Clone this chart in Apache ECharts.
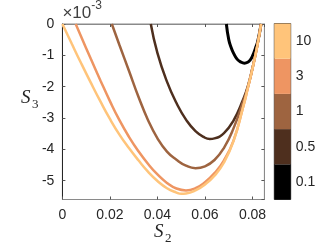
<!DOCTYPE html>
<html><head><meta charset="utf-8">
<script src="https://cdn.jsdelivr.net/npm/echarts@6/dist/echarts.min.js"></script>
<style>html,body{margin:0;padding:0;background:#fff}#c{width:332px;height:250px}</style>
</head><body><div id="c"></div>
<script>
// S3 values are in units of 1e-3 (as on the axis)
const s2_01 = [0.0690, 0.0700, 0.0710, 0.0720, 0.0735, 0.0750, 0.0766, 0.0780, 0.0790, 0.0800, 0.0812, 0.0822, 0.0836];
const s3_01 = [0, -0.50, -0.75, -0.93, -1.12, -1.21, -1.25, -1.22, -1.15, -1.02, -0.78, -0.55, 0];

const s2_05 = [0.0372, 0.0400, 0.0440, 0.0480, 0.0520, 0.0560, 0.0600, 0.0620, 0.0640, 0.0680, 0.0720, 0.0760, 0.0780, 0.0800, 0.0820, 0.0836];
const s3_05 = [0, -0.93, -1.84, -2.52, -3.05, -3.42, -3.63, -3.67, -3.65, -3.48, -3.08, -2.42, -2.0, -1.4, -0.69, 0];

const s2_1 = [0.0208, 0.0240, 0.0280, 0.0320, 0.0360, 0.0400, 0.0440, 0.0480, 0.0520, 0.0560, 0.0600, 0.0640, 0.0680, 0.0720, 0.0760, 0.0780, 0.0800, 0.0820, 0.0836];
const s3_1 = [0, -0.67, -1.49, -2.32, -3.06, -3.65, -4.07, -4.33, -4.52, -4.60, -4.54, -4.34, -3.95, -3.33, -2.49, -2.02, -1.4, -0.69, 0];

const s2_3 = [0.0056, 0.0080, 0.0120, 0.0160, 0.0200, 0.0240, 0.0280, 0.0320, 0.0360, 0.0400, 0.0440, 0.0480, 0.0520, 0.0560, 0.0600, 0.0640, 0.0680, 0.0720, 0.0760, 0.0780, 0.0800, 0.0820, 0.0836];
const s3_3 = [0, -0.42, -1.12, -1.80, -2.46, -3.07, -3.60, -4.06, -4.46, -4.80, -5.07, -5.25, -5.31, -5.24, -5.05, -4.76, -4.35, -3.72, -2.66, -2.06, -1.42, -0.70, 0];

const s2_10 = [0, 0.0040, 0.0080, 0.0120, 0.0160, 0.0200, 0.0240, 0.0280, 0.0320, 0.0360, 0.0400, 0.0440, 0.0480, 0.0500, 0.0520, 0.0560, 0.0600, 0.0640, 0.0680, 0.0720, 0.0760, 0.0780, 0.0800, 0.0820, 0.0836];
const s3_10 = [0, -0.64, -1.27, -1.88, -2.47, -3.03, -3.53, -3.96, -4.35, -4.71, -5.01, -5.24, -5.38, -5.42, -5.41, -5.31, -5.12, -4.84, -4.42, -3.74, -2.66, -2.05, -1.42, -0.70, 0];

const cbLabels = ['0.1', '0.5', '1', '3', '10'];
const cbColors = ['#000000', '#4E2F1E', '#9E6440', '#EE9562', '#FFC47A'];

const xTicks = [0, 0.02, 0.04, 0.06, 0.08];

function pairs(xs, ys) { return xs.map((x, i) => [x, ys[i]]); }

const curves = [
  { x: s2_01, y: s3_01, c: cbColors[0], w: 3 },
  { x: s2_05, y: s3_05, c: cbColors[1], w: 2.5 },
  { x: s2_1, y: s3_1, c: cbColors[2], w: 2.5 },
  { x: s2_3, y: s3_3, c: cbColors[3], w: 2.5 },
  { x: s2_10, y: s3_10, c: cbColors[4], w: 2.5 }
];

const font = '"Liberation Sans", Arial, sans-serif';
const txt = '#262626';

const chart = echarts.init(document.getElementById('c'), null, { renderer: 'canvas' });
const series = curves.map(cv => ({
  type: 'line', xAxisIndex: 0, yAxisIndex: 0,
  data: pairs(cv.x, cv.y), smooth: 0.5, showSymbol: false,
  lineStyle: { color: cv.c, width: cv.w }, itemStyle: { color: cv.c }
}));
series.push({
  type: 'bar', xAxisIndex: 2, yAxisIndex: 2, barWidth: '100%', barCategoryGap: 0,
  data: cbLabels.map((l, i) => ({ value: 1, itemStyle: { color: cbColors[i] } }))
});

chart.setOption({
  animation: false,
  grid: [
    { left: 62.4, top: 24, width: 202, height: 175.5, show: true, borderColor: '#8a8a8a', borderWidth: 1 },
    { left: 274.3, top: 23.5, width: 16.4, height: 176, show: true, borderColor: '#3a3a3a', borderWidth: 1 }
  ],
  xAxis: [
    { type: 'value', gridIndex: 0, min: 0, max: 0.085, interval: 0.02, position: 'bottom',
      splitLine: { show: false },
      axisLine: { show: true, onZero: false, lineStyle: { color: '#8a8a8a' } },
      axisTick: { inside: true, length: 3, lineStyle: { color: '#555' } },
      axisLabel: { showMaxLabel: false, margin: 9, fontFamily: font, fontSize: 14, color: txt,
        formatter: v => (xTicks.some(t => Math.abs(t - v) < 1e-9) ? (v === 0 ? '0' : v.toFixed(2)) : '') } },
    { type: 'value', gridIndex: 0, min: 0, max: 0.085, interval: 0.02, position: 'top',
      splitLine: { show: false },
      axisLine: { show: true, onZero: false, lineStyle: { color: '#8a8a8a' } },
      axisTick: { inside: true, length: 3, lineStyle: { color: '#555' } },
      axisLabel: { show: false } },
    { type: 'value', gridIndex: 1, min: 0, max: 1, show: false }
  ],
  yAxis: [
    { type: 'value', gridIndex: 0, min: -5.6, max: 0, splitNumber: 5, position: 'left',
      name: '{a|×10}{b|-3}', nameLocation: 'end', nameGap: 2,
      nameTextStyle: { align: 'left', verticalAlign: 'bottom',
        rich: { a: { fontSize: 17, fontFamily: font, color: '#404040', verticalAlign: 'bottom', lineHeight: 18 },
                b: { fontSize: 12, fontFamily: font, color: '#404040', verticalAlign: 'bottom', lineHeight: 18, padding: [0, 0, 10, 0] } } },
      splitLine: { show: false },
      axisLine: { show: true, onZero: false, lineStyle: { color: '#262626' } },
      axisTick: { inside: true, length: 3, lineStyle: { color: '#555' } },
      axisLabel: { showMinLabel: false, margin: 8, fontFamily: font, fontSize: 14, color: txt,
        formatter: v => (Math.abs(v - Math.round(v)) < 1e-9 ? String(Math.round(v)) : '') } },
    { type: 'value', gridIndex: 0, min: -5.6, max: 0, splitNumber: 5, position: 'right',
      splitLine: { show: false },
      axisLine: { show: true, onZero: false, lineStyle: { color: '#8a8a8a' } },
      axisTick: { inside: true, length: 3, lineStyle: { color: '#555' } },
      axisLabel: { show: false } },
    { type: 'category', gridIndex: 1, data: cbLabels, position: 'right',
      axisLine: { show: false }, axisTick: { show: false }, splitLine: { show: false },
      axisLabel: { margin: 5, fontFamily: font, fontSize: 14, color: txt } }
  ],
  series: series,
  graphic: [
    { type: 'text', left: 154, top: 222, style: { text: 'S', font: 'italic 19px "Liberation Serif", serif', fill: '#262626' } },
    { type: 'text', left: 165, top: 232, style: { text: '2', font: '13px "Liberation Serif", serif', fill: '#262626' } },
    { type: 'text', left: 21, top: 88, style: { text: 'S', font: 'italic 19px "Liberation Serif", serif', fill: '#262626' } },
    { type: 'text', left: 32, top: 98, style: { text: '3', font: '13px "Liberation Serif", serif', fill: '#262626' } }
  ]
});
</script>
</body></html>
